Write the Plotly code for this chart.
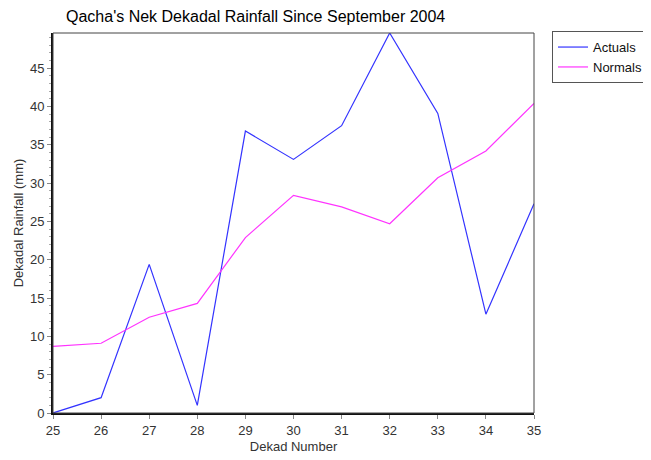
import plotly.graph_objects as go

dekads = [25, 26, 27, 28, 29, 30, 31, 32, 33, 34, 35]
actuals = [0.0, 2.0, 19.4, 1.0, 36.8, 33.1, 37.5, 49.6, 39.1, 12.9, 27.3]
normals = [8.7, 9.1, 12.5, 14.3, 22.9, 28.4, 26.9, 24.7, 30.7, 34.2, 40.4]
x_ticks = list(range(25, 36))
y_ticks = [0, 5, 10, 15, 20, 25, 30, 35, 40, 45]

font_family = "Liberation Sans, Arial, sans-serif"

# page body has an 8px margin; figure is sized to fit the 651x460 window
W, H = 643, 452

fig = go.Figure()
fig.add_trace(go.Scatter(x=dekads, y=actuals, mode="lines", name="Actuals",
                         line=dict(color="#3333ff", width=1.2)))
fig.add_trace(go.Scatter(x=dekads, y=normals, mode="lines", name="Normals",
                         line=dict(color="#ff33ff", width=1.2)))

fig.update_layout(
    width=W, height=H,
    margin=dict(l=45, r=117, t=25, b=47, autoexpand=False),
    paper_bgcolor="white", plot_bgcolor="white",
    font=dict(family=font_family, size=13, color="#222"),
    title=dict(text="Qacha's Nek Dekadal Rainfall Since September 2004",
               x=(66 - 8) / W, xanchor="left", xref="container",
               y=1 - 8 / H, yanchor="middle", yref="container",
               font=dict(size=16, color="black", family=font_family)),
    showlegend=True,
    legend=dict(x=(552 - 53) / 481, xanchor="left", y=1.005, yanchor="top",
                bordercolor="#555", borderwidth=1, bgcolor="white",
                font=dict(size=13, color="#111"),
                itemwidth=30, tracegroupgap=0),
    xaxis=dict(range=[25, 35], tickmode="array", tickvals=x_ticks,
               ticktext=[str(v) for v in x_ticks], automargin=False,
               showgrid=False, zeroline=False,
               showline=True, linecolor="#111", linewidth=2,
               ticks="outside", ticklen=4, tickcolor="#888",
               title=dict(text="Dekad Number", standoff=5,
                          font=dict(size=13, color="#333")),
               tickfont=dict(size=13, color="#333")),
    yaxis=dict(range=[0, 49.6], tickmode="array", tickvals=y_ticks,
               ticktext=[str(v) for v in y_ticks], automargin=False,
               showgrid=False, zeroline=False,
               showline=True, linecolor="#111", linewidth=2,
               ticks="outside", ticklen=4, tickcolor="#888",
               minor=dict(dtick=1, ticks="outside", ticklen=2, tickcolor="#aaa"),
               title=dict(text="Dekadal Rainfall (mm)", standoff=3,
                          font=dict(size=13, color="#333")),
               tickfont=dict(size=13, color="#333")),
)

fig.add_shape(type="rect", xref="x domain", yref="y domain",
              x0=0, x1=1, y0=0, y1=1, line=dict(color="#444", width=1),
              layer="above")

fig.write_html("out.html")
